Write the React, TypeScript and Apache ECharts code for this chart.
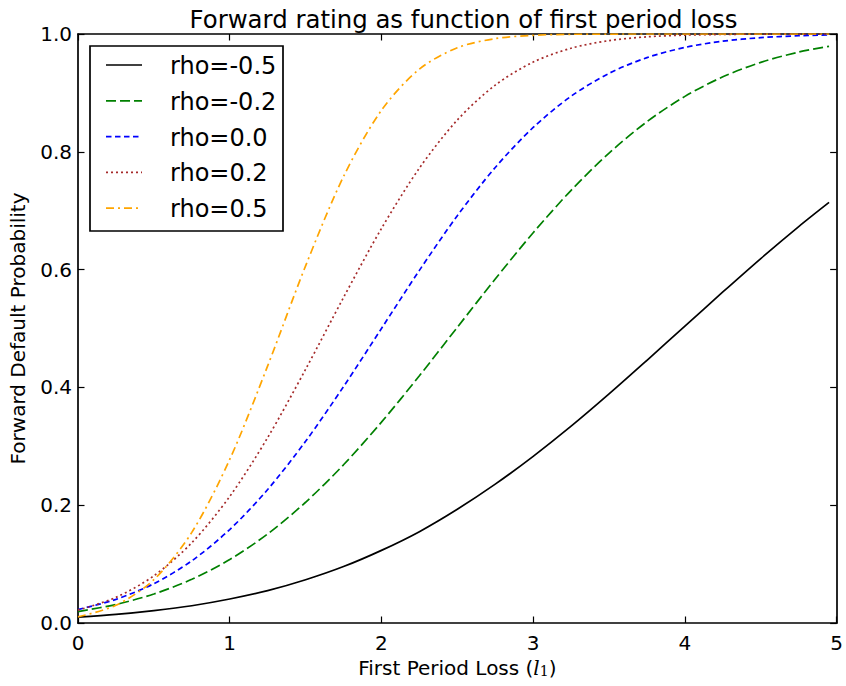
import React, { useEffect, useRef } from "react";
import * as echarts from "echarts";

const xValues = [0, 0.25, 0.5, 0.75, 1, 1.25, 1.5, 1.75, 2, 2.25, 2.5, 2.75, 3, 3.25, 3.5, 3.75, 4, 4.25, 4.5, 4.75, 4.95];

const rhoM05 = [0.0099, 0.0145, 0.0210, 0.0293, 0.0407, 0.0549, 0.0734, 0.0958, 0.1233, 0.1551, 0.1931, 0.2357, 0.2829, 0.3341, 0.3889, 0.4460, 0.5040, 0.5620, 0.6188, 0.6731, 0.7141];
const rhoM02 = [0.0194, 0.0314, 0.0492, 0.0742, 0.1078, 0.1512, 0.2050, 0.2686, 0.3410, 0.4197, 0.5020, 0.5841, 0.6626, 0.7346, 0.7978, 0.8511, 0.8941, 0.9273, 0.9518, 0.9693, 0.9791];
const rho00 = [0.0228, 0.0401, 0.0668, 0.1056, 0.1587, 0.2266, 0.3085, 0.4013, 0.5000, 0.5987, 0.6915, 0.7734, 0.8413, 0.8944, 0.9332, 0.9599, 0.9772, 0.9878, 0.9938, 0.9970, 0.9984];
const rho02 = [0.0218, 0.0435, 0.0801, 0.1363, 0.2149, 0.3148, 0.4306, 0.5526, 0.6698, 0.7723, 0.8540, 0.9132, 0.9523, 0.9759, 0.9888, 0.9952, 0.9981, 0.9993, 0.9998, 0.9999, 1.0];
const rho05 = [0.0104, 0.0301, 0.0736, 0.1538, 0.2777, 0.4365, 0.6063, 0.7580, 0.8705, 0.9404, 0.9766, 0.9922, 0.9978, 0.9995, 0.9999, 1.0, 1.0, 1.0, 1.0, 1.0, 1.0];

const seriesNames = ["rho=-0.5", "rho=-0.2", "rho=0.0", "rho=0.2", "rho=0.5"];
const seriesValues = [rhoM05, rhoM02, rho00, rho02, rho05];
const seriesColors = ["#000000", "#008000", "#0000ff", "#a52a2a", "#ffa500"];
const seriesDashes: (number[] | "solid")[] = ["solid", [10, 4], [5.5, 3.5], [2, 3], [8, 4, 2, 4]];

const xTicks = [0, 1, 2, 3, 4, 5];
const yTicks = [0, 0.2, 0.4, 0.6, 0.8, 1.0];

const FONT = "DejaVu Sans";
const LW = 1.7;

export default function App() {
  const ref = useRef<HTMLDivElement>(null);

  useEffect(() => {
    if (!ref.current) return;
    const chart = echarts.init(ref.current, undefined, { renderer: "svg" });

    const gridLeft = 78;
    const gridRight = 7;
    const gridTop = 34;
    const gridBottom = 63;

    const axisLineStyle = { color: "#000", width: LW };
    const tickCommon = { show: true, inside: true, length: 6.5, lineStyle: { color: "#000", width: 1.2 } };

    const legendX = 90;
    const legendY = 46;
    const rowGap = 35.8;
    const legendElems: any[] = [
      {
        type: "rect",
        shape: { x: legendX, y: legendY, width: 193, height: 185 },
        style: { fill: "#fff", stroke: "#000", lineWidth: LW },
        z: 100,
      },
    ];
    seriesNames.forEach((name, i) => {
      const cy = 65 + i * rowGap;
      legendElems.push({
        type: "line",
        shape: { x1: 106, y1: cy, x2: 142, y2: cy },
        style: {
          stroke: seriesColors[i],
          lineWidth: LW,
          lineDash: seriesDashes[i] === "solid" ? null : (seriesDashes[i] as number[]),
        },
        z: 101,
      });
      legendElems.push({
        type: "text",
        x: 170,
        y: cy + 1,
        style: {
          text: name,
          fontFamily: FONT,
          fontSize: 24,
          fill: "#000",
          textAlign: "left",
          textVerticalAlign: "middle",
        },
        z: 101,
      });
    });

    const option: any = {
      animation: false,
      backgroundColor: "#fff",
      title: {
        text: "Forward rating as function of first period loss",
        left: gridLeft + (846 - gridLeft - gridRight) / 2,
        textAlign: "center",
        top: 2,
        textStyle: { fontFamily: FONT, fontSize: 24.4, fontWeight: "normal", color: "#000" },
      },
      legend: { show: false },
      grid: { left: gridLeft, right: gridRight, top: gridTop, bottom: gridBottom, containLabel: false },
      xAxis: [
        {
          type: "value",
          min: 0,
          max: 5,
          interval: 1,
          position: "bottom",
          name: "First Period Loss ({it|l}{sub|1})",
          nameLocation: "middle",
          nameGap: 31,
          nameTextStyle: {
            fontFamily: FONT,
            fontSize: 20,
            color: "#000",
            rich: {
              it: { fontFamily: "DejaVu Serif", fontStyle: "italic", fontSize: 20, color: "#000" },
              sub: { fontFamily: "DejaVu Serif", fontSize: 14, color: "#000", verticalAlign: "bottom", padding: [6, 0, 0, 0] },
            },
          },
          axisLine: { show: true, onZero: false, lineStyle: axisLineStyle },
          axisTick: tickCommon,
          axisLabel: {
            margin: 10,
            fontFamily: FONT,
            fontSize: 20,
            color: "#000",
            formatter: (v: number) => (xTicks.includes(v) ? String(v) : ""),
          },
          splitLine: { show: false },
        },
        {
          type: "value",
          min: 0,
          max: 5,
          interval: 1,
          position: "top",
          axisLine: { show: true, onZero: false, lineStyle: axisLineStyle },
          axisTick: tickCommon,
          axisLabel: { show: false },
          splitLine: { show: false },
        },
      ],
      yAxis: [
        {
          type: "value",
          min: 0,
          max: 1,
          interval: 0.2,
          position: "left",
          name: "Forward Default Probability",
          nameLocation: "middle",
          nameGap: 50,
          nameTextStyle: { fontFamily: FONT, fontSize: 20, color: "#000" },
          axisLine: { show: true, onZero: false, lineStyle: axisLineStyle },
          axisTick: tickCommon,
          axisLabel: {
            margin: 6,
            fontFamily: FONT,
            fontSize: 20,
            color: "#000",
            formatter: (v: number) => {
              const t = yTicks.find((y) => Math.abs(y - v) < 1e-9);
              return t === undefined ? "" : t.toFixed(1);
            },
          },
          splitLine: { show: false },
        },
        {
          type: "value",
          min: 0,
          max: 1,
          interval: 0.2,
          position: "right",
          axisLine: { show: true, onZero: false, lineStyle: axisLineStyle },
          axisTick: tickCommon,
          axisLabel: { show: false },
          splitLine: { show: false },
        },
      ],
      series: seriesNames.map((name, i) => ({
        name,
        type: "line",
        xAxisIndex: 0,
        yAxisIndex: 0,
        data: xValues.map((x, j) => [x, seriesValues[i][j]]),
        showSymbol: false,
        symbol: "none",
        smooth: 0.3,
        clip: true,
        lineStyle: { color: seriesColors[i], width: LW, type: seriesDashes[i] },
        z: 2 + i,
      })),
      graphic: legendElems,
    };

    chart.setOption(option);
    return () => chart.dispose();
  }, []);

  return (
    <div
      ref={ref}
      style={{ position: "fixed", left: 0, top: 0, width: 846, height: 686, background: "#fff" }}
    />
  );
}
